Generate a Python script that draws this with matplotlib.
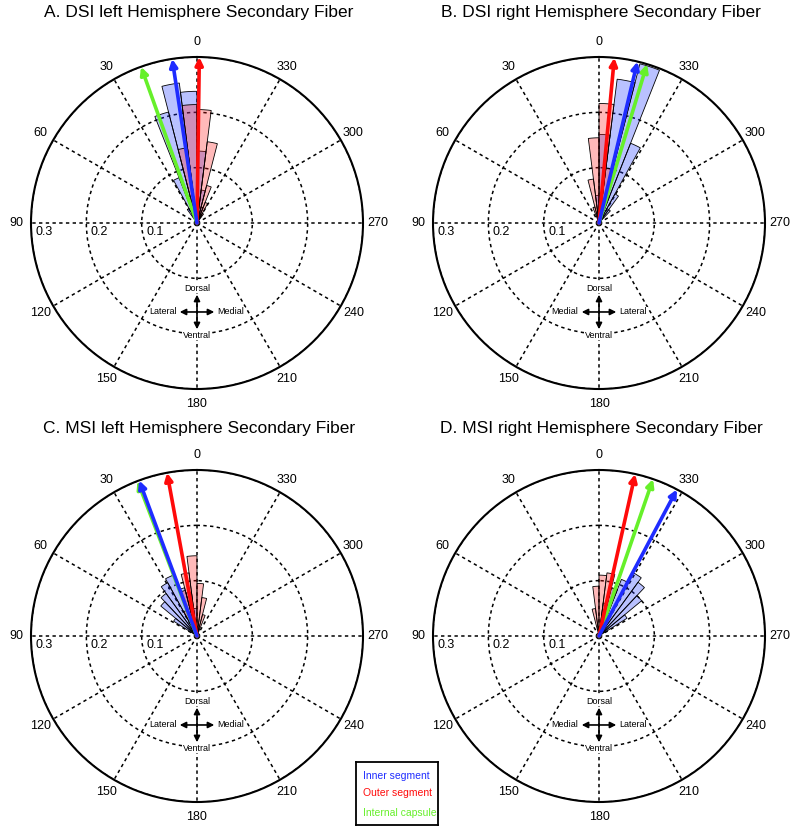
import numpy as np
import matplotlib
matplotlib.use("Agg")
import matplotlib.pyplot as plt
import matplotlib.transforms as mtransforms

plt.rcParams['font.family'] = ['Liberation Sans', 'DejaVu Sans']

# bin width of the rose histograms (degrees)
bin_w = 7.2

# ---- data: bin start angles (deg, ccw from top) and heights ----
a_blue_start = [0, 7.2, 14.4, 21.6, 28.8, 352.8, 345.6, 338.4]
a_blue_h     = [0.238, 0.255, 0.207, 0.088, 0.03, 0.13, 0.06, 0.03]
a_red_start  = [0, 7.2, 14.4, 352.8, 345.6, 338.4, 331.2, 324.0]
a_red_h      = [0.214, 0.137, 0.05, 0.205, 0.148, 0.07, 0.04, 0.02]

b_blue_start = [338.4, 345.6, 331.2, 324.0, 352.8, 0, 316.8]
b_blue_h     = [0.297, 0.262, 0.155, 0.06, 0.16, 0.05, 0.03]
b_red_start  = [352.8, 0, 7.2, 14.4, 345.6, 338.4]
b_red_h      = [0.216, 0.154, 0.08, 0.03, 0.10, 0.05]

c_blue_start = [0, 7.2, 14.4, 21.6, 28.8, 36.0, 43.2, 50.4]
c_blue_h     = [0.05, 0.08, 0.09, 0.118, 0.11, 0.095, 0.085, 0.05]
c_red_start  = [0, 7.2, 14.4, 21.6, 352.8, 345.6, 338.4]
c_red_h      = [0.145, 0.115, 0.085, 0.05, 0.095, 0.07, 0.04]

d_blue_start = [345.6, 338.4, 331.2, 324.0, 316.8, 309.6, 302.4]
d_blue_h     = [0.06, 0.09, 0.11, 0.13, 0.12, 0.10, 0.06]
d_red_start  = [7.2, 0, 352.8, 345.6, 338.4]
d_red_h      = [0.05, 0.09, 0.11, 0.115, 0.09]

# mean direction arrows (deg): inner, outer, internal capsule
a_arrows = [8.6, 359.2, 19.7]
b_arrows = [346.6, 354.7, 343.2]
c_arrows = [20.4, 10.4, 21.0]
d_arrows = [332.0, 347.4, 341.0]

titles = ["A. DSI left Hemisphere Secondary Fiber",
          "B. DSI right Hemisphere Secondary Fiber",
          "C. MSI left Hemisphere Secondary Fiber",
          "D. MSI right Hemisphere Secondary Fiber"]

theta_labels = [str(a) for a in range(0, 360, 30)]
r_ticks = [0.1, 0.2, 0.3]
r_labels = ["0.1", "0.2", "0.3"]

blue_c = '#1f2cff'
red_c = '#ff0a0a'
green_c = '#66f02a'

fig = plt.figure(figsize=(8, 8.34), dpi=100)
W, H = 800, 834


def draw_panel(rect, blue_s, blue_h, red_s, red_h, arrows, lat_left):
    ax = fig.add_axes(rect, projection='polar')
    ax.set_theta_zero_location('N')
    ax.set_theta_direction(1)
    ax.set_ylim(0, 0.3)
    ax.set_rticks(r_ticks)
    ax.set_yticklabels([])
    ax.set_thetagrids(range(0, 360, 30), theta_labels, fontsize=9)
    ax.tick_params(axis='x', pad=0)
    ax.grid(True, color='k', linestyle=(0, (2.2, 2.2)), linewidth=1.1)
    ax.spines['polar'].set_linewidth(1.5)

    ax.bar(np.deg2rad(blue_s), blue_h, width=np.deg2rad(bin_w), align='edge',
           color=(0.1, 0.2, 1.0, 0.3), edgecolor='k', linewidth=0.6, zorder=3)
    ax.bar(np.deg2rad(red_s), red_h, width=np.deg2rad(bin_w), align='edge',
           color=(1.0, 0.1, 0.1, 0.3), edgecolor='k', linewidth=0.6, zorder=4)

    # arrows: green first, then red, then blue on top
    for ang, col in [(arrows[2], green_c), (arrows[1], red_c), (arrows[0], blue_c)]:
        ax.annotate('', xy=(np.deg2rad(ang), 0.3), xytext=(0, 0),
                    arrowprops=dict(arrowstyle='-|>', color=col, lw=2.6,
                                    mutation_scale=11, shrinkA=0, shrinkB=0),
                    zorder=6)

    # radial labels along the 90 deg spoke
    off = mtransforms.ScaledTranslation(0, -2.5 / 72, fig.dpi_scale_trans)
    for r, lab in zip(r_ticks, r_labels):
        ax.text(np.pi / 2, r - 0.024, lab, fontsize=9, ha='center', va='top',
                transform=ax.transData + off, zorder=7)

    # orientation cross
    cx, cy, hl = 0.5, 0.232, 0.052
    for xy, xyt in [((cx, cy + hl), (cx, cy - hl)), ((cx + hl, cy), (cx - hl, cy))]:
        ax.annotate('', xy=xy, xytext=xyt, xycoords='axes fraction',
                    arrowprops=dict(arrowstyle='<|-|>', color='k', lw=1.2,
                                    mutation_scale=9, shrinkA=0, shrinkB=0),
                    zorder=8)
    bb = dict(facecolor='white', edgecolor='none', pad=0.5)
    ax.text(cx, cy + hl + 0.006, 'Dorsal', transform=ax.transAxes, fontsize=6.5,
            ha='center', va='bottom', bbox=bb, zorder=8)
    ax.text(cx, cy - hl - 0.004, 'Ventral', transform=ax.transAxes, fontsize=6.5,
            ha='center', va='top', bbox=bb, zorder=8)
    left_lab, right_lab = ('Lateral', 'Medial') if lat_left else ('Medial', 'Lateral')
    ax.text(cx - hl - 0.01, cy, left_lab, transform=ax.transAxes, fontsize=6.5,
            ha='right', va='center', bbox=bb, zorder=8)
    ax.text(cx + hl + 0.01, cy, right_lab, transform=ax.transAxes, fontsize=6.5,
            ha='left', va='center', bbox=bb, zorder=8)
    return ax


def rect_for(cx, cy, r=166):
    return [(cx - r) / W, (H - (cy + r)) / H, 2 * r / W, 2 * r / H]


draw_panel(rect_for(197, 223), a_blue_start, a_blue_h,
           a_red_start, a_red_h, a_arrows, True)
draw_panel(rect_for(599, 223), b_blue_start, b_blue_h,
           b_red_start, b_red_h, b_arrows, False)
draw_panel(rect_for(197, 636), c_blue_start, c_blue_h,
           c_red_start, c_red_h, c_arrows, True)
draw_panel(rect_for(599, 636), d_blue_start, d_blue_h,
           d_red_start, d_red_h, d_arrows, False)

fig.text(199 / W, 1 - 13 / H, titles[0], ha='center', va='center', fontsize=12.5)
fig.text(601 / W, 1 - 13 / H, titles[1], ha='center', va='center', fontsize=12.5)
fig.text(199 / W, 1 - 428 / H, titles[2], ha='center', va='center', fontsize=12.5)
fig.text(601 / W, 1 - 428 / H, titles[3], ha='center', va='center', fontsize=12.5)

# legend box
lax = fig.add_axes([356 / W, (H - 825) / H, 82 / W, 63 / H])
lax.set_xticks([])
lax.set_yticks([])
for s in lax.spines.values():
    s.set_linewidth(1.3)
lax.text(0.08, 0.78, 'Inner segment', color=blue_c, fontsize=7.5, va='center')
lax.text(0.08, 0.50, 'Outer segment', color=red_c, fontsize=7.5, va='center')
lax.text(0.08, 0.19, 'Internal capsule', color=green_c, fontsize=7.5, va='center')

fig.savefig('out.png', dpi=100)
